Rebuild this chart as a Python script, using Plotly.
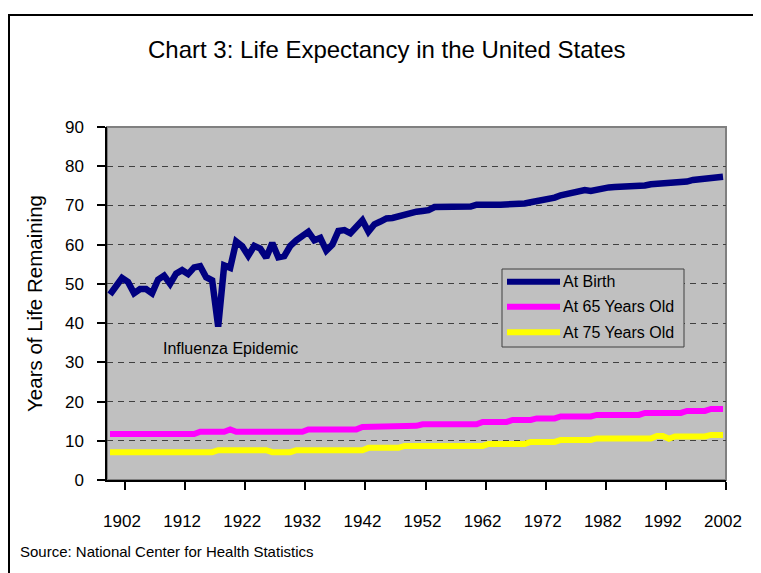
import plotly.graph_objects as go

# ---------------- data ----------------
years = list(range(1900, 2003))

at_birth = [47.3, 49.1, 51.5, 50.5, 47.6, 48.7, 48.7, 47.6, 51.1, 52.1,
            50.0, 52.6, 53.5, 52.5, 54.2, 54.5, 51.7, 50.9, 39.1, 54.7,
            54.1, 60.8, 59.6, 57.2, 59.7, 59.0, 56.7, 60.4, 56.8, 57.1,
            59.7, 61.1, 62.1, 63.3, 61.1, 61.7, 58.5, 60.0, 63.5, 63.7,
            62.9, 64.8, 66.2, 63.3, 65.2, 65.9, 66.7, 66.8, 67.2, 68.0,
            68.2, 68.4, 68.6, 68.8, 69.6, 69.6, 69.7, 69.5, 69.6, 69.9,
            69.7, 70.2, 70.1, 69.9, 70.2, 70.2, 70.2, 70.5, 70.2, 70.5,
            70.8, 71.1, 71.2, 71.4, 72.0, 72.6, 72.9, 73.3, 73.5, 73.9,
            73.7, 74.1, 74.5, 74.6, 74.7, 74.7, 74.7, 74.9, 74.9, 75.1,
            75.4, 75.5, 75.8, 75.5, 75.7, 75.8, 76.1, 76.5, 76.7, 76.7,
            77.0, 77.2, 77.3]

at_65 = [11.7, 11.7, 11.7, 11.7, 11.7, 11.7, 11.7, 11.7, 11.7, 11.7,
         11.7, 11.7, 11.7, 11.7, 11.7, 12.3, 12.3, 12.3, 12.3, 12.3,
         12.9, 12.3, 12.3, 12.3, 12.3, 12.3, 12.3, 12.3, 12.3, 12.3,
         12.3, 12.3, 12.3, 12.9, 12.9, 12.9, 12.9, 12.9, 12.9, 12.9,
         12.9, 12.9, 13.5, 13.5, 13.5, 13.5, 13.5, 13.8, 13.8, 13.8,
         13.8, 13.8, 14.2, 14.2, 14.2, 14.2, 14.2, 14.2, 14.2, 14.2,
         14.2, 14.2, 14.8, 14.8, 14.8, 14.8, 14.8, 15.3, 15.3, 15.3,
         15.3, 15.7, 15.7, 15.7, 15.7, 16.2, 16.2, 16.2, 16.2, 16.2,
         16.2, 16.6, 16.6, 16.6, 16.6, 16.6, 16.6, 16.6, 16.6, 17.1,
         17.1, 17.1, 17.1, 17.1, 17.1, 17.1, 17.6, 17.6, 17.6, 17.6,
         18.1, 18.1, 18.1]

at_75 = [7.1, 7.1, 7.1, 7.1, 7.1, 7.1, 7.1, 7.1, 7.1, 7.1,
         7.1, 7.1, 7.1, 7.1, 7.1, 7.1, 7.1, 7.1, 7.6, 7.6,
         7.6, 7.6, 7.6, 7.6, 7.6, 7.6, 7.6, 7.1, 7.1, 7.1,
         7.1, 7.6, 7.6, 7.6, 7.6, 7.6, 7.6, 7.6, 7.6, 7.6,
         7.6, 7.6, 7.6, 8.2, 8.2, 8.2, 8.2, 8.2, 8.2, 8.7,
         8.7, 8.7, 8.7, 8.7, 8.7, 8.7, 8.7, 8.7, 8.7, 8.7,
         8.7, 8.7, 8.7, 9.2, 9.2, 9.2, 9.2, 9.2, 9.2, 9.2,
         9.7, 9.7, 9.7, 9.7, 9.7, 10.2, 10.2, 10.2, 10.2, 10.2,
         10.2, 10.6, 10.6, 10.6, 10.6, 10.6, 10.6, 10.6, 10.6, 10.6,
         10.6, 11.2, 11.2, 10.5, 11.1, 11.1, 11.1, 11.1, 11.1, 11.1,
         11.5, 11.5, 11.5]

series_names = ["At Birth", "At 65 Years Old", "At 75 Years Old"]
series_colors = ["#000080", "#FF00FF", "#FFFF00"]
series_widths = [6.5, 6, 6]

label_years = [1902, 1912, 1922, 1932, 1942, 1952, 1962, 1972, 1982, 1992, 2002]
tick_labels = [str(y) for y in label_years]
y_ticks = list(range(0, 100, 10))

title_text = "Chart 3: Life Expectancy in the United States"
y_title = "Years of Life Remaining"
note_text = "Influenza Epidemic"
source_text = "Source: National Center for Health Statistics"

FONT = "Liberation Sans, Arial, sans-serif"

# ---------------- figure ----------------
fig = go.Figure()
for name, vals, col, w in zip(series_names, [at_birth, at_65, at_75], series_colors, series_widths):
    fig.add_trace(go.Scatter(x=years, y=vals, mode="lines", name=name,
                             line=dict(color=col, width=w), showlegend=False))

OFF = 8  # page body margin of the html page
W, H = 761, 573
L, T = 107 - OFF, 127 - OFF
pw, ph = 619, 353
R = W - L - pw
B = H - T - ph


def px_x(px):
    return (px - OFF - L) / pw


def px_y(py):
    return (H - B - (py - OFF)) / ph


shapes = [
    # outer frame
    dict(type="rect", xref="paper", yref="paper",
         x0=px_x(9), x1=px_x(800), y0=px_y(610), y1=px_y(15),
         line=dict(color="black", width=2), fillcolor="rgba(0,0,0,0)", layer="below"),
    # plot area border (gray)
    dict(type="rect", xref="x domain", yref="y domain", x0=0, x1=1, y0=0, y1=1,
         line=dict(color="#808080", width=2), fillcolor="rgba(0,0,0,0)", layer="below"),
    # legend box
    dict(type="rect", xref="paper", yref="paper",
         x0=px_x(502), x1=px_x(684), y0=px_y(347), y1=px_y(269),
         line=dict(color="#404040", width=1), fillcolor="#C0C0C0", layer="above"),
]

annotations = []
leg_rows = [281.7, 306.7, 332.3]
for name, col, ry in zip(series_names, series_colors, leg_rows):
    shapes.append(dict(type="line", xref="paper", yref="paper",
                       x0=px_x(507), x1=px_x(560), y0=px_y(ry), y1=px_y(ry),
                       line=dict(color=col, width=6), layer="above"))
    annotations.append(dict(xref="paper", yref="paper", x=px_x(561), y=px_y(ry),
                            xanchor="left", yanchor="middle", text=name, showarrow=False,
                            font=dict(family=FONT, size=16, color="black")))

annotations.append(dict(x=1920, y=33.6, xref="x", yref="y", text=note_text, showarrow=False,
                        font=dict(family=FONT, size=16, color="black")))
annotations.append(dict(xref="paper", yref="paper", x=px_x(18), y=px_y(551),
                        xanchor="left", yanchor="middle", text=source_text, showarrow=False,
                        font=dict(family=FONT, size=15, color="black")))
annotations.append(dict(xref="paper", yref="paper", x=px_x(387), y=px_y(49),
                        xanchor="center", yanchor="middle", text=title_text,
                        showarrow=False, font=dict(family=FONT, size=24, color="black")))

fig.update_layout(
    width=W, height=H,
    margin=dict(l=L, r=R, t=T, b=B, pad=0),
    paper_bgcolor="white",
    plot_bgcolor="#C0C0C0",
    showlegend=False,
    shapes=shapes,
    annotations=annotations,
    font=dict(family=FONT, color="black"),
    xaxis=dict(
        range=[1899.5, 2002.5], showgrid=False, zeroline=False,
        tickmode="array", tickvals=[y + 0.5 for y in label_years], ticktext=tick_labels,
        ticks="outside", ticklen=8, tickwidth=1.5, tickcolor="black",
        ticklabelshift=-3, ticklabelstandoff=17,
        showline=True, linecolor="black", linewidth=1.5,
        tickfont=dict(family=FONT, size=17, color="black"),
        automargin=False,
    ),
    yaxis=dict(
        range=[0, 90], tickmode="array", tickvals=y_ticks,
        ticks="outside", ticklen=8, tickwidth=1.5, tickcolor="black",
        showline=True, linecolor="black", linewidth=1.5,
        showgrid=True, gridcolor="#404040", gridwidth=1.3, griddash="6px,5px",
        zeroline=False, ticklabelstandoff=10,
        tickfont=dict(family=FONT, size=17, color="black"),
        title=dict(text=y_title, font=dict(family=FONT, size=20.5, color="black"), standoff=17),
        automargin=False,
    ),
)

fig.write_html("out.html")
